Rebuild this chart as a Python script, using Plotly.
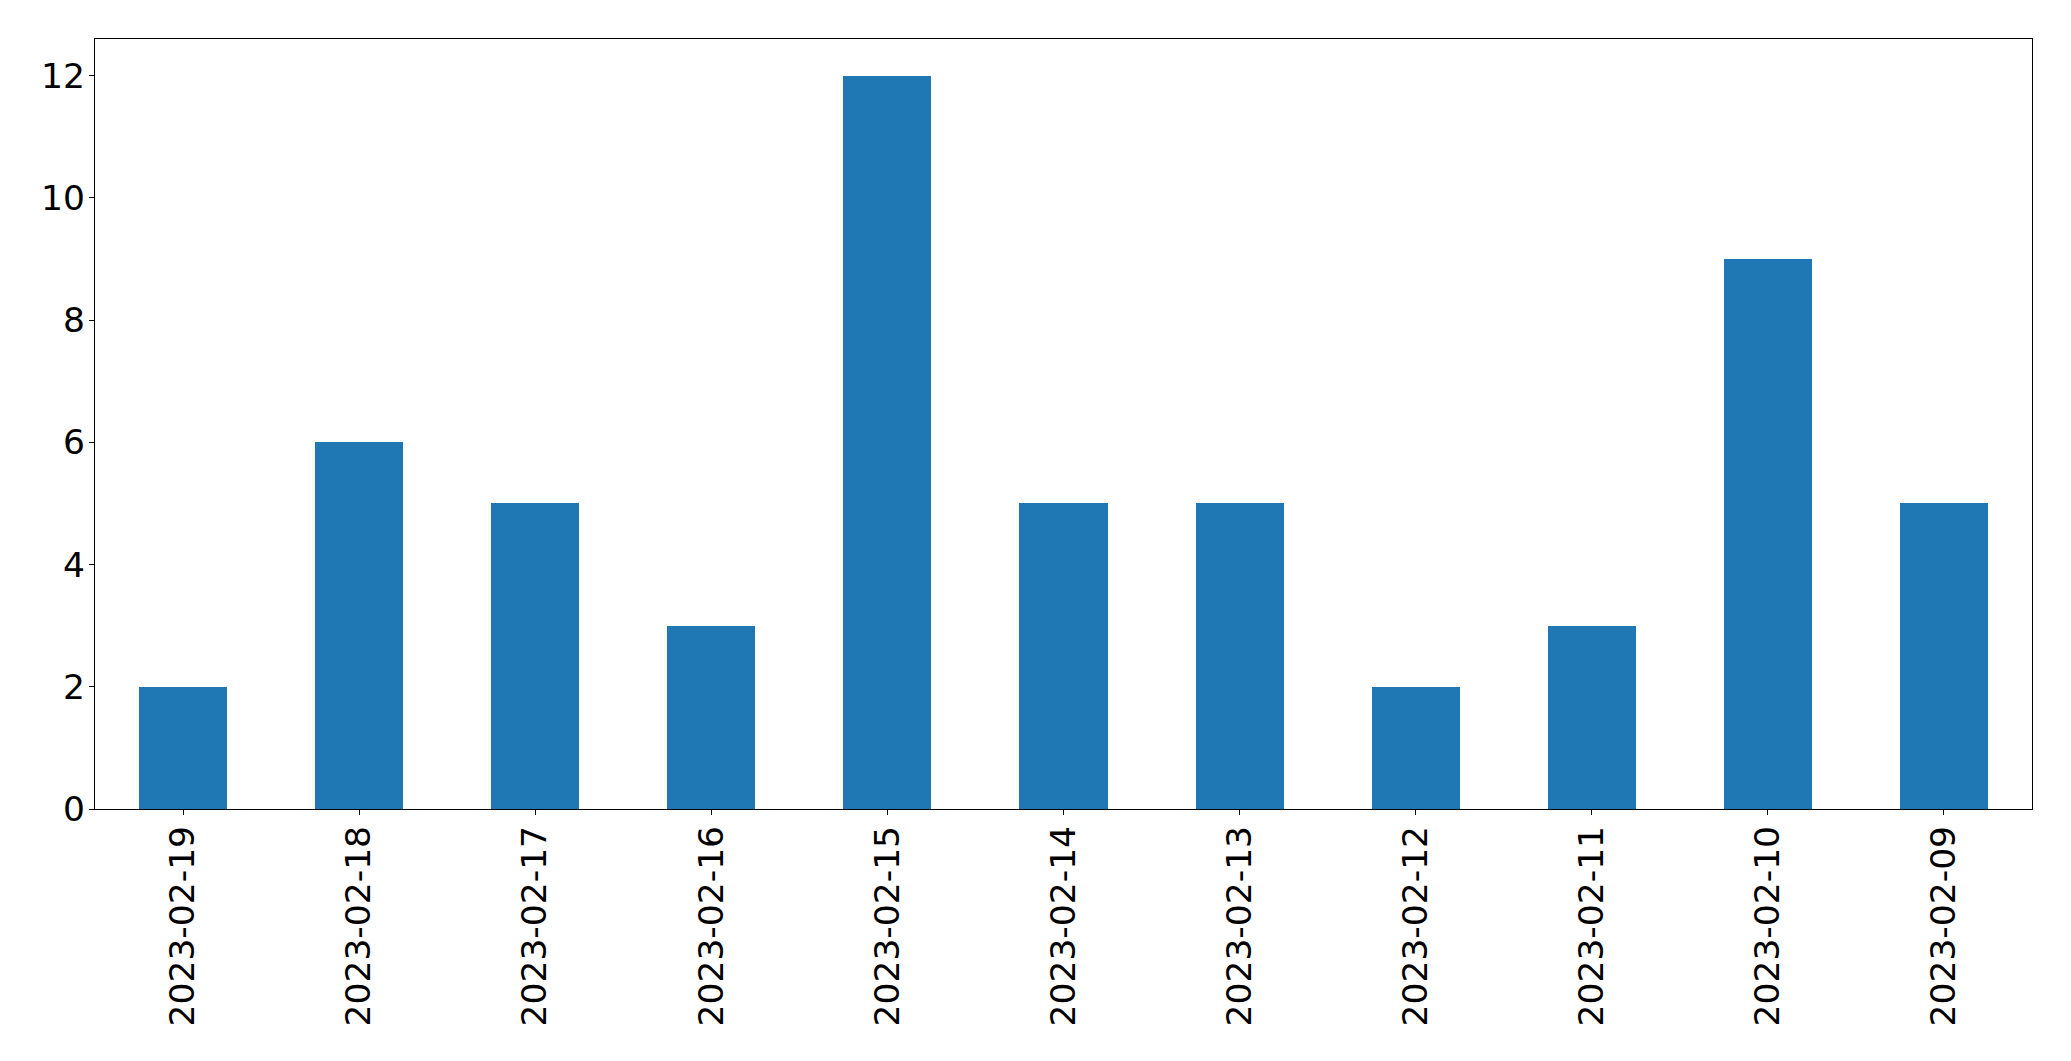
import plotly.graph_objects as go

dates = ["2023-02-19", "2023-02-18", "2023-02-17", "2023-02-16", "2023-02-15",
         "2023-02-14", "2023-02-13", "2023-02-12", "2023-02-11", "2023-02-10",
         "2023-02-09"]
counts = [2, 6, 5, 3, 12, 5, 5, 2, 3, 9, 5]
y_ticks = [0, 2, 4, 6, 8, 10, 12]

fig = go.Figure(go.Bar(x=dates, y=counts, marker=dict(color="#1f77b4", line=dict(width=0)),
                       width=0.5))

axis_common = dict(showline=True, linecolor="black", linewidth=1.3, mirror=True,
                   ticks="outside", ticklen=5, tickwidth=1.3, tickcolor="black",
                   showgrid=False, zeroline=False, ticklabelstandoff=-3,
                   tickfont=dict(family="DejaVu Sans", size=34.5, color="black"))

fig.update_layout(
    width=2063, height=1053,
    margin=dict(l=87, r=39, t=31, b=252),
    paper_bgcolor="white", plot_bgcolor="white",
    showlegend=False,
    bargap=0,
    xaxis=dict(type="category", range=[-0.5, 10.5], tickangle=-90, **axis_common),
    yaxis=dict(range=[0, 12.6], tickvals=y_ticks, ticktext=[str(v) for v in y_ticks],
               **axis_common),
)

fig.write_html("out.html")
